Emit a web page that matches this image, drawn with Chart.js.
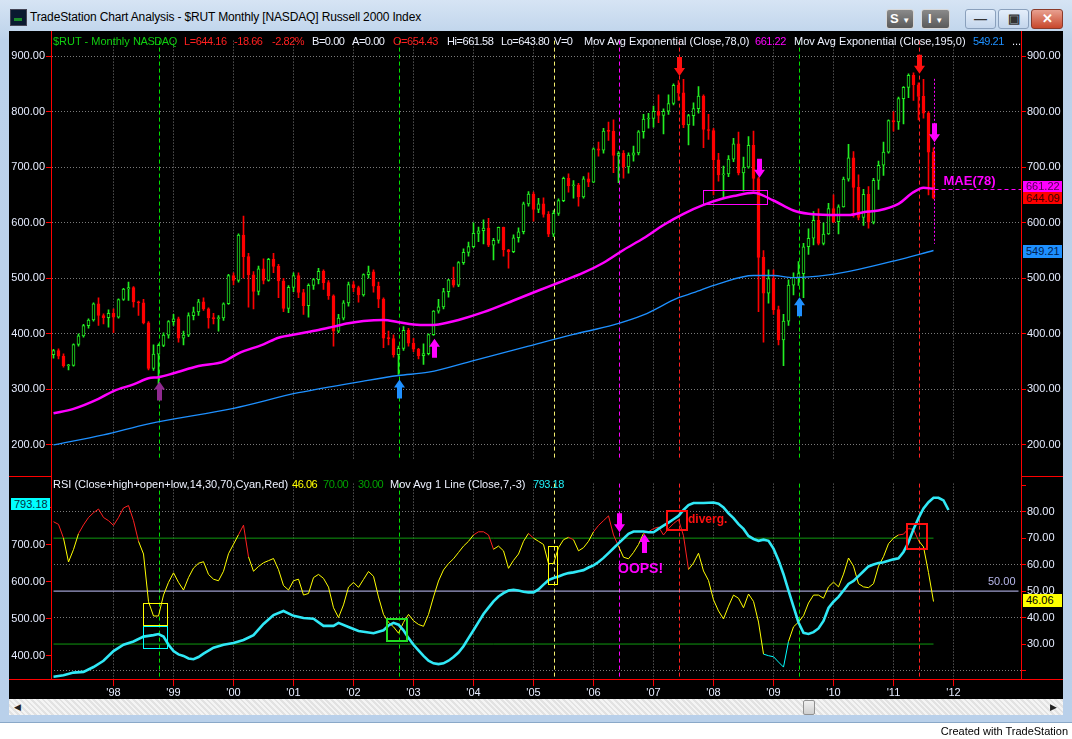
<!DOCTYPE html>
<html>
<head>
<meta charset="utf-8">
<script src="https://cdn.jsdelivr.net/npm/chart.js@4.4.1/dist/chart.umd.min.js"></script>
<style>
  body { margin: 0; width: 1072px; height: 739px; background: #fff; overflow: hidden;
         font-family: "Liberation Sans", Arial, sans-serif; }
  #root { position: relative; width: 1072px; height: 739px; }
  .abs { position: absolute; }
  #win { left: 0; top: 0; width: 1072px; height: 722px;
         background: linear-gradient(#d6e4f4, #bcd2ea 40px, #b9d0ea); border-bottom: 1px solid #8aa8c8; }
  #title { left: 30px; top: 10px; font-size: 12px; letter-spacing: -0.15px; color: #000; white-space: nowrap; }
  #icon { left: 10px; top: 9px; width: 15px; height: 15px; background: #0a1a30; border: 1px solid #445; }
  #icon:after { content: ""; position: absolute; left: 3px; top: 8px; width: 8px; height: 3px; background: #1c8c2c; }
  .btn { top: 9px; height: 18px; border-radius: 3px; font-size: 13px; font-weight: bold;
         text-align: center; line-height: 18px; }
  .dk { background: linear-gradient(#8a8a8a, #5a5a5a); color: #fff; border: 1px solid #d8d8d8; }
  .lt { background: linear-gradient(#e4eefa, #c4d6ec); border: 1px solid #8aa0bc; color: #333; }
  .cl { background: linear-gradient(#e8a090, #c8482c); border: 1px solid #8a3a2a; color: #fff; }
  #plot { left: 9px; top: 31px; width: 1054px; height: 668px; background: #000; }
  canvas { position: absolute; }
  .red { background: #ff0000; }
  .hdr { font-size: 11px; white-space: nowrap; line-height: 12px; }
  .tight { letter-spacing: -0.45px; }
  .badge { font-size: 11px; line-height: 12px; padding-left: 3px; box-sizing: border-box; white-space: nowrap; }
  #scroll { left: 9px; top: 699px; width: 1054px; height: 16px;
            background: repeating-linear-gradient(45deg, #f4f4f4 0 2px, #e2e2e2 2px 4px); }
  #thumb { left: 803px; top: 700px; width: 10px; height: 13px; background: linear-gradient(#f0f0f0, #cfcfcf);
           border: 1px solid #909090; border-radius: 2px; }
  #credit { right: 4px; top: 725px; font-family: "Liberation Sans Narrow", "Liberation Sans", Arial, sans-serif;
            font-size: 11px; color: #000; }
</style>
</head>
<body>
<div id="root">
  <div id="win" class="abs"></div>
  <div id="icon" class="abs"></div>
  <div id="title" class="abs">TradeStation Chart Analysis - $RUT Monthly [NASDAQ] Russell 2000 Index</div>
  <div class="abs btn dk" style="left:886px;width:26px;">S <span style="font-size:8px">&#9660;</span></div>
  <div class="abs btn dk" style="left:921px;width:27px;">I <span style="font-size:8px">&#9660;</span></div>
  <div class="abs btn lt" style="left:965px;width:29px;">&#8212;</div>
  <div class="abs btn lt" style="left:998px;width:29px;">&#9635;</div>
  <div class="abs btn cl" style="left:1031px;width:30px;">&#10005;</div>

  <div id="plot" class="abs"></div>
  <canvas id="priceChart" width="1054" height="435" style="left:9px;top:33px;"></canvas>
  <canvas id="rsiChart" width="1054" height="223" style="left:9px;top:476px;"></canvas>

  <!-- frame lines -->
  <div class="abs red" style="left:51px;top:31px;width:1px;height:648px;"></div>
  <div class="abs red" style="left:1021px;top:31px;width:1px;height:648px;"></div>
  <div class="abs red" style="left:9px;top:476px;width:42px;height:1px;"></div>
  <div class="abs red" style="left:1021px;top:476px;width:42px;height:1px;"></div>
  <div class="abs red" style="left:9px;top:679px;width:1054px;height:1px;"></div>

  <!-- price header -->
  <div class="abs hdr" style="left:53px;top:35px;color:#10d010">$RUT - Monthly</div>
  <div class="abs hdr tight" style="left:133px;top:35px;color:#10d010">NASDAQ</div>
  <div class="abs hdr tight" style="left:184px;top:35px;color:#ff2020">L=644.16</div>
  <div class="abs hdr tight" style="left:234px;top:35px;color:#ff2020">-18.66</div>
  <div class="abs hdr tight" style="left:272px;top:35px;color:#ff2020">-2.82%</div>
  <div class="abs hdr tight" style="left:312px;top:35px;color:#eef2ff">B=0.00</div>
  <div class="abs hdr tight" style="left:352px;top:35px;color:#eef2ff">A=0.00</div>
  <div class="abs hdr tight" style="left:393px;top:35px;color:#ff2020">O=654.43</div>
  <div class="abs hdr tight" style="left:447px;top:35px;color:#eef2ff">Hi=661.58</div>
  <div class="abs hdr tight" style="left:501px;top:35px;color:#eef2ff">Lo=643.80</div>
  <div class="abs hdr tight" style="left:554px;top:35px;color:#eef2ff">V=0</div>
  <div class="abs hdr" style="left:584px;top:35px;color:#eef2ff">Mov Avg Exponential (Close,78,0)</div>
  <div class="abs hdr tight" style="left:755px;top:35px;color:#ff00ff">661.22</div>
  <div class="abs hdr" style="left:794px;top:35px;color:#eef2ff">Mov Avg Exponential (Close,195,0)</div>
  <div class="abs hdr tight" style="left:973px;top:35px;color:#1e90ff">549.21</div>
  <div class="abs hdr" style="left:1012px;top:35px;color:#eef2ff">...</div>

  <!-- rsi header -->
  <div class="abs hdr" style="left:53px;top:478px;color:#eef2ff">RSI (Close+high+open+low,14,30,70,Cyan,Red)</div>
  <div class="abs hdr tight" style="left:292px;top:478px;color:#ffff00">46.06</div>
  <div class="abs hdr tight" style="left:323px;top:478px;color:#00a000">70.00</div>
  <div class="abs hdr tight" style="left:358px;top:478px;color:#00a000">30.00</div>
  <div class="abs hdr" style="left:390px;top:478px;color:#eef2ff">Mov Avg 1 Line (Close,7,-3)</div>
  <div class="abs hdr tight" style="left:533px;top:478px;color:#20f0f8">793.18</div>
  <div class="abs hdr" style="left:988px;top:575px;color:#b8b8ec">50.00</div>

  <!-- axis value badges -->
  <div class="abs badge" style="left:1023px;top:181px;width:39px;height:11px;line-height:11px;background:#ff00ff;color:#500050">661.22</div>
  <div class="abs badge" style="left:1023px;top:192px;width:39px;height:12px;background:#ff0000;color:#400000">644.09</div>
  <div class="abs badge" style="left:1023px;top:245px;width:39px;height:13px;line-height:13px;background:#1e90ff;color:#002050">549.21</div>
  <div class="abs badge" style="left:1023px;top:594px;width:39px;height:13px;line-height:13px;background:#ffff00;color:#000">46.06</div>
  <div class="abs badge" style="left:11px;top:498px;width:39px;height:12px;background:#00ffff;color:#003040">793.18</div>

  <div id="scroll" class="abs"></div>
  <div class="abs" style="left:14px;top:702px;font-size:9px;color:#222">&#9664;</div>
  <div class="abs" style="left:1050px;top:702px;font-size:9px;color:#222">&#9654;</div>
  <div id="thumb" class="abs"></div>
  <div id="credit" class="abs">Created with TradeStation</div>
</div>

<script>
// ============================================================
// DATA
// ============================================================
const years = ["1997","1998","1999","2000","2001","2002","2003","2004","2005",
               "2006","2007","2008","2009","2010","2011","2012","2013"];
const monthNums = ["01","02","03","04","05","06","07","08","09","10","11","12"];
const yearTicks = ["'98","'99","'00","'01","'02","'03","'04","'05","'06","'07","'08","'09","'10","'11","'12"];

// monthly candles, Jan 1997 - Sep 2011
const opens = [
  362.6,369.8,360.0,342.6,343.0,380.8,396.4,414.9,424.9,453.8,433.0,429.0,
  437.0,430.0,461.8,480.7,483.1,457.4,456.0,419.8,337.9,363.6,379.2,397.8,
  422.0,427.2,392.3,397.6,432.8,439.4,457.7,445.0,428.6,427.3,428.6,454.1,
  504.8,496.2,577.7,539.1,506.3,476.2,517.2,496.0,533.9,521.4,495.1,445.9,
  483.5,505.0,474.4,450.5,487.1,497.6,512.6,492.3,468.6,404.9,428.2,455.8,
  488.5,483.1,470.0,506.5,511.6,486.0,462.6,392.4,391.4,362.3,373.9,406.4,
  383.1,372.2,360.5,364.5,398.7,441.0,448.4,476.0,497.4,487.7,528.2,546.5,
  556.9,580.8,585.6,590.3,559.8,568.3,591.5,551.3,547.9,572.9,583.8,633.8,
  651.6,624.0,634.1,615.1,579.4,616.7,639.7,679.8,666.5,667.8,646.6,679.0,
  673.2,733.2,730.6,765.1,764.5,721.0,724.7,700.6,721.6,725.6,763.7,786.7,
  787.7,800.3,793.3,800.7,814.6,847.2,833.7,776.1,792.9,805.5,828.0,767.8,
  766.0,713.3,686.2,688.0,714.6,741.8,689.7,700.0,739.5,679.6,537.5,473.1,
  499.5,443.5,389.0,422.8,487.6,501.6,508.3,556.7,572.1,604.3,562.8,579.7,
  625.4,602.0,628.6,678.6,716.6,663.5,609.5,650.9,601.1,676.1,703.4,727.0,
  783.7,781.3,823.5,843.5,865.3,848.3,827.4,797.0,726.8
];
const highs = [
  372,373,364,345,382,400,417,427,456,465,436,443,
  445,463,482,493,485,459,462,422,380,382,402,424,
  435,430,405,438,448,462,465,447,437,433,456,507,
  510,580,612,545,512,522,535,536,545,525,500,487,
  510,510,480,490,500,518,515,496,470,435,460,493,
  494,486,508,522,515,493,465,405,398,378,413,410,
  392,374,382,400,442,462,482,498,520,530,553,565,
  600,592,605,608,572,592,592,552,578,591,637,656,
  655,644,645,620,622,643,682,688,676,671,683,690,
  735,745,770,781,785,728,730,726,738,766,795,797,
  810,830,805,830,850,856,858,795,816,845,830,795,
  770,725,702,721,752,763,718,755,765,682,550,515,
  515,450,435,497,510,530,563,589,620,625,600,635,
  650,632,682,741,728,686,660,665,680,711,745,785,
  800,826,845,868,870,852,858,800,735
];
const lows = [
  356,355,340,335,342,378,394,410,423,415,418,412,
  402,428,460,460,448,433,418,335,334,310,377,392,
  415,385,380,395,425,433,442,410,418,405,424,453,
  488,493,500,448,445,470,490,495,510,465,440,438,
  476,465,435,430,480,490,480,462,378,402,425,450,
  476,457,468,500,475,447,375,380,358,327,370,378,
  368,355,345,362,397,437,445,466,484,485,525,540,
  555,566,562,557,533,563,540,518,546,565,580,630,
  603,618,610,575,575,613,638,655,644,630,644,665,
  672,720,725,748,690,672,680,689,711,722,752,770,
  772,780,760,795,812,820,771,740,775,797,735,750,
  650,675,643,683,710,686,657,698,657,440,385,455,
  435,380,342.6,415,470,487,465,543,560,560,560,579,
  600,580,628,675,610,605,595,590,598,660,685,725,
  765,768,778,825,820,785,788,650,643
];
const closes = [
  369.8,360.0,342.6,343.0,380.8,396.4,414.9,424.9,453.8,433.0,429.0,437.0,
  430.0,461.8,480.7,483.1,457.4,456.0,419.8,337.9,363.6,379.2,397.8,422.0,
  427.2,392.3,397.6,432.8,439.4,457.7,445.0,428.6,427.3,428.6,454.1,504.8,
  496.2,577.7,539.1,506.3,476.2,517.2,496.0,533.9,521.4,495.1,445.9,483.5,
  505.0,474.4,450.5,487.1,497.6,512.6,492.3,468.6,404.9,428.2,455.8,488.5,
  483.1,470.0,506.5,511.6,486.0,462.6,392.4,391.4,362.3,373.9,406.4,383.1,
  372.2,360.5,364.5,398.7,441.0,448.4,476.0,497.4,487.7,528.2,546.5,556.9,
  580.8,585.6,590.3,559.8,568.3,591.5,551.3,547.9,572.9,583.8,633.8,651.6,
  624.0,634.1,615.1,579.4,616.7,639.7,679.8,666.5,667.8,646.6,679.0,673.2,
  733.2,730.6,765.1,764.5,721.0,724.7,700.6,721.6,725.6,763.7,786.7,787.7,
  800.3,793.3,800.7,814.6,847.2,833.7,776.1,792.9,805.5,828.0,767.8,766.0,
  713.3,686.2,688.0,714.6,741.8,689.7,700.0,739.5,679.6,537.5,473.1,499.5,
  443.5,389.0,422.8,487.6,501.6,508.3,556.7,572.1,604.3,562.8,579.7,625.4,
  602.0,628.6,678.6,716.6,663.5,609.5,650.9,601.1,676.1,703.4,727.0,783.7,
  781.3,823.5,843.5,865.3,848.3,827.4,797.0,726.8,644.2
];

// moving averages: [month index, value]
const ema78Pts = [
  [0,257],[4,265],[9,283],[12,297],[16,309],[19,320],[21,322],[24,329],[29,342],[34,350],
  [37,365],[42,381],[45,393],[49,400],[53,407],[56,413],[59,419],[62,423],[66,425],[69,421],
  [72,417],[75,416],[77,417],[81,425],[86,439],[92,460],[97,478],[101,492],[106,510],[110,528],
  [114,551],[118,572],[122,596],[126,616],[130,632],[134,644],[136,648],[140,654],[144,640],
  [148,622],[151,616],[155,614],[159,614],[162,619],[165,622],[169,634],[172,655],[174,663],[176,661]
];
const ema195Pts = [
  [0,200],[10,218],[19,238],[36,266],[49,294],[62,315],[69,325],[75,331],[84,352],[95,378],
  [104,399],[112,416],[118,434],[125,465],[128,474],[133,490],[140,505],[144,505],[148,501],
  [155,506],[161,516],[168,531],[176,550]
];
const maPts = [
  [0,344],[2,348],[4,355],[6,357],[8,370],[10,387],[12,413],[14,430],[16,439],[18,452],
  [20,456],[21,459],[22,452],[23,430],[24,413],[25,404],[26,400],[27,393],[28,391],[29,397],
  [30,406],[32,422],[34,430],[36,435],[38,443],[40,456],[42,486],[44,510],[46,521],[48,508],
  [50,502],[52,500],[54,481],[56,481],[57,489],[59,478],[61,467],[62,465],[64,461],[66,469],
  [67,482],[68,489],[69,484],[70,469],[71,448],[72,430],[73,415],[74,400],[75,387],[76,380],
  [77,378],[78,380],[79,387],[80,397],[81,409],[82,426],[83,448],[84,469],[85,491],[86,513],
  [87,530],[88,547],[89,560],[90,569],[91,576],[92,578],[93,576],[94,573],[95,571],[96,571],
  [97,579],[98,592],[99,604],[100,610],[101,614],[102,619],[103,623],[104,625],[105,628],[106,631],
  [107,638],[108,644],[109,653],[110,664],[111,677],[112,690],[113,703],[114,716],[115,729],[116,735],
  [117,735],[118,735],[119,733],[120,733],[121,742],[122,751],[123,759],[124,768],[125,777],[126,793],
  [127,806],[128,812],[130,812],[132,813],[133,810],[134,800],[135,784],[136,771],[137,755],[138,742],
  [139,723],[140,715],[141,710],[142,713],[143,710],[144,689],[145,658],[146,620],[147,576],[148,533],
  [149,490],[150,462],[151,459],[152,464],[153,474],[154,494],[155,529],[156,546],[157,559],[158,576],
  [159,594],[160,602],[161,615],[162,628],[163,641],[164,646],[165,650],[166,652],[167,656],[168,660],
  [169,663],[170,680],[171,706],[172,741],[173,771],[174,797],[175,814],[176,826],[177,826],[178,819],
  [179,793]
];

// RSI(14) of close+high+open+low
const rsi = [
  76.2,75.2,70.0,61.0,65.7,71.7,75.0,77.8,79.6,81.0,77.8,76.6,
  74.8,77.8,81.4,82.3,76.6,68.8,64.0,46.0,40.6,40.6,48.5,53.3,
  56.9,53.3,50.4,55.1,58.7,60.5,61.1,56.3,54.5,53.9,57.5,64.1,
  67.7,71.3,74.9,62.9,57.5,59.3,60.7,61.5,62.3,58.1,52.1,50.4,
  53.9,54.5,48.5,49.1,55.1,56.3,54.8,51.5,43.7,40.0,44.8,51.5,
  53.3,51.4,54.4,57.4,55.6,47.8,41.2,38.2,36.5,34.1,38.2,41.2,
  38.8,37.4,36.7,41.2,47.8,53.8,58.0,60.4,62.2,64.6,67.0,68.8,
  71.2,72.4,72.4,71.2,65.8,67.0,65.2,58.6,61.6,64.0,68.8,71.8,
  70.0,68.8,67.6,60.4,60.4,66.4,69.4,70.3,69.4,65.2,66.4,68.8,
  72.4,74.8,76.6,78.4,71.2,67.0,62.8,62.2,64.6,67.6,71.8,72.4,
  73.6,74.2,71.2,73.6,75.5,77.0,70.9,58.2,60.6,64.3,57.6,54.0,
  46.7,42.5,39.5,44.3,48.5,47.3,43.7,48.9,46.1,38.3,26.2,25.6,
  25.2,23.2,21.3,31.0,36.5,38.3,40.7,45.5,48.5,48.5,47.3,51.6,
  53.4,51.6,56.4,62.5,59.4,52.8,51.6,51.3,52.8,59.4,63.0,67.9,
  70.0,71.2,71.5,73.6,73.3,69.1,66.7,57.0,46.06
];
const rsiLevels = [70, 50, 30];

// markup drawn on the chart
const eventIdx = [21, 69, 100, 113, 125, 149, 173];
const eventColors = ["#00e000", "#00e000", "#f4f070", "#ff00ff", "#ff2020", "#00e000", "#ff2020"];
const priceArrows = [
  [21, 314, "up", "#902a90"], [69, 318, "up", "#2090ff"], [76, 391, "up", "#ff00ff"],
  [125, 864, "down", "#ff1010"], [141, 681, "down", "#ff00ff"], [149, 466, "up", "#2090ff"],
  [173, 868, "down", "#ff1010"], [176, 745, "down", "#ff00ff"]
];
const rsiArrows = [[113, 72.2, "down", "#ff00ff"], [118, 71.6, "up", "#ff00ff"]];
const rsiBoxes = [
  [17.9, 22.7, 45.5, 37.2, "#ffff00", 1], [17.9, 22.7, 36.8, 28.4, "#00ffff", 1],
  [66.7, 70.7, 39.3, 31.0, "#22dd22", 2], [98.9, 100.7, 67.0, 52.5, "#ffff00", 1],
  [122.7, 126.7, 80.4, 73.2, "#ff1010", 2], [170.7, 174.7, 75.3, 65.9, "#ff1010", 2]
];

// ============================================================
// HELPERS
// ============================================================
const labels = [];
years.forEach(y => monthNums.forEach(m => labels.push(y + "-" + m)));
labels.length = 194;

const GREEN = "#22ee22";
const RED = "#ff0000";
const AXIS_TXT = "#e6ecff";
const FONT = { family: "Liberation Sans", size: 11 };
const isUp = i => closes[i] >= opens[i];
const toXY = pts => pts.map(([i, v]) => ({ x: labels[i], y: v }));
const isYearTick = i => i % 12 === 0 && i >= 12 && i <= 180;

function drawArrow(ctx, x, y, dir, color) {
  const s = dir === "up" ? 1 : -1;
  ctx.fillStyle = color;
  ctx.beginPath();
  ctx.moveTo(x, y);
  ctx.lineTo(x + 5.5, y + s * 8);
  ctx.lineTo(x + 2.5, y + s * 8);
  ctx.lineTo(x + 2.5, y + s * 19);
  ctx.lineTo(x - 2.5, y + s * 19);
  ctx.lineTo(x - 2.5, y + s * 8);
  ctx.lineTo(x - 5.5, y + s * 8);
  ctx.closePath();
  ctx.fill();
}

function drawEventLines(chart) {
  const { ctx, chartArea: a, scales } = chart;
  ctx.save();
  ctx.lineWidth = 1;
  ctx.setLineDash([4, 3]);
  eventIdx.forEach((idx, k) => {
    const px = Math.round(scales.x.getPixelForValue(idx)) + 0.5;
    ctx.strokeStyle = eventColors[k];
    ctx.beginPath();
    ctx.moveTo(px, a.top);
    ctx.lineTo(px, a.bottom);
    ctx.stroke();
  });
  ctx.restore();
}

const yearGrid = c => (isYearTick(c.index) ? "#7a7a7a" : "rgba(0,0,0,0)");

// ============================================================
// PRICE PANEL
// ============================================================
const pricePlugin = {
  id: "priceMarks",
  beforeDatasetsDraw(chart) { drawEventLines(chart); },
  afterDatasetsDraw(chart) {
    const { ctx, chartArea: a, scales: { x, yl } } = chart;
    ctx.save();
    // box around the 2008 top of the 78 EMA
    ctx.strokeStyle = "#ff00ff";
    ctx.lineWidth = 1;
    const bx0 = x.getPixelForValue(129.9), bx1 = x.getPixelForValue(142.7);
    const by0 = yl.getPixelForValue(658), by1 = yl.getPixelForValue(632);
    ctx.strokeRect(Math.round(bx0) + 0.5, Math.round(by0) + 0.5, Math.round(bx1 - bx0), Math.round(by1 - by0));
    // current-bar dotted cursor and MAE level line
    const cx = Math.round(x.getPixelForValue(176)) + 0.5;
    ctx.setLineDash([2, 2]);
    ctx.beginPath();
    ctx.moveTo(cx, yl.getPixelForValue(859));
    ctx.lineTo(cx, yl.getPixelForValue(562));
    ctx.stroke();
    ctx.setLineDash([4, 3]);
    const my = Math.round(yl.getPixelForValue(661)) + 0.5;
    ctx.beginPath();
    ctx.moveTo(cx, my);
    ctx.lineTo(a.right, my);
    ctx.stroke();
    ctx.setLineDash([]);
    priceArrows.forEach(([i, v, dir, col]) =>
      drawArrow(ctx, Math.round(x.getPixelForValue(i)) + 0.5, yl.getPixelForValue(v), dir, col));
    ctx.fillStyle = "#ff00ff";
    ctx.font = "bold 13px 'Liberation Sans'";
    ctx.textBaseline = "middle";
    ctx.fillText("MAE(78)", x.getPixelForValue(178), yl.getPixelForValue(674));
    ctx.restore();
  }
};

new Chart(document.getElementById("priceChart"), {
  type: "bar",
  data: {
    labels: labels,
    datasets: [
      {
        type: "line", label: "EMA 78", data: toXY(ema78Pts), yAxisID: "yl",
        borderColor: "#ff00ff", borderWidth: 2.5, pointRadius: 0,
        cubicInterpolationMode: "monotone", order: 1
      },
      {
        type: "line", label: "EMA 195", data: toXY(ema195Pts), yAxisID: "yl",
        borderColor: "#1e90ff", borderWidth: 1.3, pointRadius: 0,
        cubicInterpolationMode: "monotone", order: 1
      },
      {
        label: "body", data: opens.map((o, i) => [o, closes[i]]), yAxisID: "yl",
        grouped: false, barThickness: 3, minBarLength: 1, borderWidth: 1, borderSkipped: false,
        backgroundColor: c => (isUp(c.dataIndex) ? "#000000" : RED),
        borderColor: c => (isUp(c.dataIndex) ? GREEN : RED),
        order: 2
      },
      {
        label: "wick", data: lows.map((l, i) => [l, highs[i]]), yAxisID: "yl",
        grouped: false, barThickness: 1, borderWidth: 0,
        backgroundColor: c => (isUp(c.dataIndex) ? GREEN : RED),
        order: 3
      }
    ]
  },
  options: {
    responsive: false,
    animation: false,
    events: [],
    layout: { padding: 0, autoPadding: false },
    plugins: { legend: { display: false }, tooltip: { enabled: false } },
    scales: {
      x: {
        offset: true,
        grid: { offset: false, color: yearGrid, drawTicks: false },
        border: { display: false, dash: [1, 2] },
        ticks: { display: false, autoSkip: false },
        afterFit(s) { s.height = 0; }
      },
      yl: {
        position: "left", min: 172.2, max: 927.8,
        ticks: { stepSize: 100, includeBounds: false, color: AXIS_TXT, font: FONT, padding: 1,
                 callback: v => v.toFixed(2) },
        grid: { color: "#7a7a7a", tickColor: RED, tickLength: 5 },
        border: { color: RED, dash: [1, 2] },
        afterFit(s) { s.width = 42; }
      },
      yr: {
        position: "right", min: 172.2, max: 927.8,
        ticks: { stepSize: 100, includeBounds: false, color: AXIS_TXT, font: FONT, padding: 1,
                 callback: v => v.toFixed(2) },
        grid: { drawOnChartArea: false, tickColor: RED, tickLength: 5 },
        border: { color: RED },
        afterFit(s) { s.width = 42; }
      }
    }
  },
  plugins: [pricePlugin]
});

// ============================================================
// RSI PANEL
// ============================================================
const rsiPlugin = {
  id: "rsiMarks",
  beforeDatasetsDraw(chart) { drawEventLines(chart); },
  afterDatasetsDraw(chart) {
    const { ctx, scales: { x, rsi: r } } = chart;
    ctx.save();
    rsiBoxes.forEach(([i0, i1, v0, v1, col, w]) => {
      const px0 = Math.round(x.getPixelForValue(i0)), px1 = Math.round(x.getPixelForValue(i1));
      const py0 = Math.round(r.getPixelForValue(v0)), py1 = Math.round(r.getPixelForValue(v1));
      ctx.strokeStyle = col;
      ctx.lineWidth = w;
      const o = w === 1 ? 0.5 : 0;
      ctx.strokeRect(px0 + o, py0 + o, px1 - px0, py1 - py0);
    });
    rsiArrows.forEach(([i, v, dir, col]) =>
      drawArrow(ctx, Math.round(x.getPixelForValue(i)) + 0.5, r.getPixelForValue(v), dir, col));
    ctx.textBaseline = "middle";
    ctx.fillStyle = "#ff00ff";
    ctx.font = "bold 14px 'Liberation Sans'";
    ctx.fillText("OOPS!", x.getPixelForValue(112.9), r.getPixelForValue(58.4));
    ctx.fillStyle = "#ff1010";
    ctx.font = "bold 12px 'Liberation Sans'";
    ctx.fillText("diverg.", x.getPixelForValue(126.9), r.getPixelForValue(77));
    ctx.restore();
  }
};

const levelLine = (lvl, lastIdx, color) => ({
  label: "level " + lvl, data: [{ x: labels[0], y: lvl }, { x: labels[lastIdx], y: lvl }],
  yAxisID: "rsi", borderColor: color, borderWidth: 1, pointRadius: 0, order: 3
});

new Chart(document.getElementById("rsiChart"), {
  type: "line",
  data: {
    labels: labels,
    datasets: [
      levelLine(rsiLevels[0], 176, "#109a10"),
      levelLine(rsiLevels[1], 193, "#c4c4ff"),
      levelLine(rsiLevels[2], 176, "#109a10"),
      {
        label: "RSI", data: rsi, yAxisID: "rsi", borderWidth: 1, pointRadius: 0, order: 2,
        borderColor: "#ffff00",
        segment: {
          borderColor: c => {
            const v = c.p0.parsed.y;
            return v > 70 ? "#ff2020" : v < 30 ? "#00ffff" : "#ffff00";
          }
        }
      },
      {
        label: "Mov Avg 1 Line", data: toXY(maPts), yAxisID: "ma",
        borderColor: "#30e8f6", borderWidth: 2.6, pointRadius: 0, order: 1
      }
    ]
  },
  options: {
    responsive: false,
    animation: false,
    events: [],
    layout: { padding: 0, autoPadding: false },
    plugins: { legend: { display: false }, tooltip: { enabled: false } },
    scales: {
      x: {
        offset: true,
        grid: { offset: false, color: yearGrid, tickColor: c => (isYearTick(c.index) ? RED : "rgba(0,0,0,0)"),
                tickLength: 7 },
        border: { color: RED, dash: [1, 2] },
        ticks: {
          autoSkip: false, maxRotation: 0, padding: 0, color: AXIS_TXT, font: FONT,
          callback: (v, i) => (isYearTick(i) ? yearTicks[i / 12 - 1] : "")
        },
        afterFit(s) { s.height = 20; }
      },
      rsi: {
        position: "right", min: 16.8, max: 90.6,
        ticks: { stepSize: 10, includeBounds: false, color: AXIS_TXT, font: FONT, padding: 1,
                 callback: v => (v >= 30 && v <= 80 ? v.toFixed(2) : "") },
        grid: { color: c => ([20, 40, 60, 80].includes(c.tick.value) ? "#7a7a7a" : "rgba(0,0,0,0)"),
                tickColor: RED, tickLength: 5 },
        border: { color: RED, dash: [1, 2] },
        afterFit(s) { s.width = 42; }
      },
      ma: {
        position: "left", min: 337.8, max: 864.1,
        ticks: { stepSize: 100, includeBounds: false, color: AXIS_TXT, font: FONT, padding: 1,
                 callback: v => v.toFixed(2) },
        grid: { drawOnChartArea: false, tickColor: RED, tickLength: 5 },
        border: { color: RED },
        afterFit(s) { s.width = 42; }
      }
    }
  },
  plugins: [rsiPlugin]
});
</script>
</body>
</html>
